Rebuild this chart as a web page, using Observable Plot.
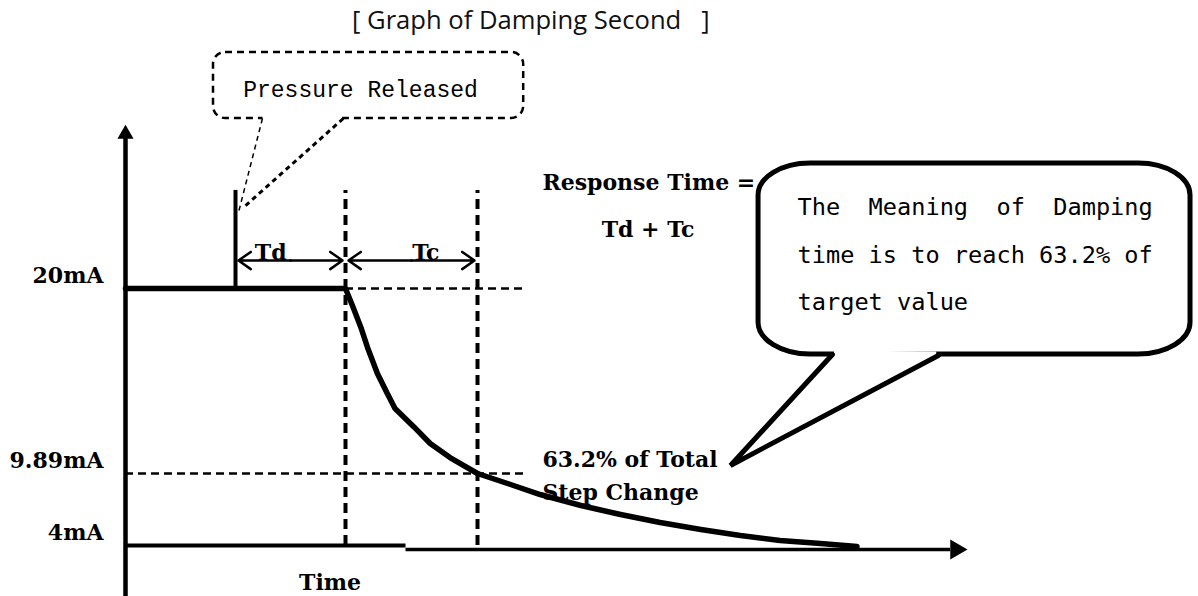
<!DOCTYPE html>
<html>
<head>
<meta charset="utf-8">
<script src="https://cdn.jsdelivr.net/npm/d3@7"></script>
<script src="https://cdn.jsdelivr.net/npm/@observablehq/plot@0.6"></script>
<style>
  html, body { margin: 0; padding: 0; background: #fff; }
  #wrap { position: relative; width: 1198px; height: 596px; overflow: hidden; }
  #title { position: absolute; left: 352px; top: 2px; font-family: "Open Sans", "Noto Sans", sans-serif; font-size: 25.6px; white-space: pre; color: #111; }
  #chart svg { display: block; }
  #chart text { white-space: pre; }
</style>
</head>
<body>
<div id="wrap">
  <div id="chart"></div>
  <div id="title"></div>
</div>
<script>
// ---------- data ----------
const titleText = "[ Graph of Damping Second   ]";
const yTickValues = [4, 9.89, 20];          // mA levels marked on the vertical axis
const yTickUnit = "mA";
const xLabel = "Time";
const releaseTime = 1.0;                      // pressure released
const phaseNames = ["Td", "Tc"];
const phaseStart = [1.0, 2.0];
const phaseEnd = [2.0, 3.2];
// output signal (time units, mA)
const signalTime = [0, 2.0, 2.07, 2.14, 2.2, 2.29, 2.38, 2.45, 2.62, 2.77, 2.95, 3.2, 3.5, 3.77, 4.14, 4.5, 4.86, 5.23, 5.59, 5.95, 6.32, 6.65];
const signalMA   = [20, 20, 18.96, 17.87, 16.78, 15.35, 14.26, 13.44, 12.45, 11.53, 10.76, 9.89, 8.99, 8.17, 7.27, 6.54, 5.88, 5.31, 4.82, 4.41, 4.16, 3.92];
const calloutText = "Pressure Released";
const responseLines = ["Response Time =", "Td + Tc"];
const stepLines = ["63.2% of Total", "Step Change"];
const noteLines = ["The  Meaning  of  Damping", "time is to reach 63.2% of", "target value"];

// ---------- annotation placement (data units: time, mA) ----------
const signal = signalTime.map((t, i) => ({t, v: signalMA[i]}));
const phaseLabelTime = [1.32, 2.73];
const dimLevel = 21.53;
const markerTop = 25.36;
const dashEnd = 3.64;
const axisTop = 28.3;
const axisBottom = -0.8;
const xAxisBreak = 2.55;
const xAxisEnd = 7.5;
const xAxisLow = 3.67;

const dimArrows = phaseNames.flatMap((n, i) => {
  const m = (phaseStart[i] + phaseEnd[i]) / 2;
  return [{a: m, b: phaseStart[i]}, {a: m, b: phaseEnd[i]}];
});
const phaseLabels = phaseNames.map((n, i) => ({n, t: phaseLabelTime[i]}));

const pressureBox = [{x1: 0.8, x2: 3.62, y1: 29.29, y2: 32.9}];
const pressureGap = [{a: 1.25, b: 1.97, v: 29.29}];
const pressureTails = [
  {x1: 1.245, y1: 29.29, x2: 1.027, y2: 24.15, w: 1.5},
  {x1: 1.98, y1: 29.29, x2: 1.073, y2: 24.43, w: 3}
];
const bubbleBox = [{x1: 5.755, x2: 9.682, y1: 16.39, y2: 26.83}];
const bubbleGap = [{x1: 6.44, y1: 16.39, x2: 7.37, y2: 16.34}];
const bubblePointer = [{t: 6.427, v: 16.39}, {t: 5.5, v: 10.33}, {t: 7.39, v: 16.34}];
const noteBaselines = [23.99, 21.42, 18.85];
const responseBaselines = [25.36, 22.79];
const responseX = [3.79, 4.75];
const responseAnchor = ["start", "middle"];
const stepBaselines = [10.22, 7.76];

const boldFont = {fontFamily: "DejaVu Serif", fontWeight: "bold", fontSize: 22};

document.getElementById("title").textContent = titleText;

const plot = Plot.plot({
  width: 1198,
  height: 596,
  marginLeft: 125,
  marginRight: 0,
  marginTop: 0,
  marginBottom: 0,
  style: {background: "white", color: "black"},
  x: {type: "linear", domain: [0, 10], range: [125, 1225], axis: null},
  y: {type: "linear", domain: [4, 9.89, 20], range: [545, 473, 288], axis: null},
  marks: [
    // dashed reference lines
    Plot.ruleY([20], {x1: phaseEnd[0], x2: dashEnd, stroke: "black", strokeWidth: 2.5, strokeDasharray: "8,5"}),
    Plot.ruleY([9.89], {x1: 0, x2: dashEnd, stroke: "black", strokeWidth: 2.5, strokeDasharray: "8,5"}),
    Plot.ruleX(phaseEnd, {y1: 4, y2: markerTop, stroke: "black", strokeWidth: 4, strokeDasharray: "10,6"}),
    // axes
    Plot.ruleX([0], {y1: axisBottom, y2: axisTop, stroke: "black", strokeWidth: 4.5}),
    Plot.dot([{t: 0, v: 28.44}], {x: "t", y: "v", symbol: "triangle", r: 6, fill: "black", stroke: "none"}),
    Plot.ruleY([4], {x1: 0, x2: xAxisBreak, stroke: "black", strokeWidth: 4}),
    Plot.ruleY([xAxisLow], {x1: xAxisBreak, x2: xAxisEnd, stroke: "black", strokeWidth: 3.5}),
    Plot.dot([{t: 7.55, v: xAxisLow}], {x: "t", y: "v", symbol: "triangle", rotate: 90, r: 7.4, fill: "black", stroke: "none"}),
    Plot.axisY(yTickValues, {anchor: "left", tickSize: 0, tickPadding: 22, dy: -13, tickFormat: d => d + yTickUnit, label: null, ...boldFont}),
    Plot.text([xLabel], {x: 1.86, y: 0.32, text: d => d, lineAnchor: "bottom", textAnchor: "middle", ...boldFont}),
    // release marker
    Plot.ruleX([releaseTime], {y1: 20, y2: markerTop, stroke: "black", strokeWidth: 4}),
    // Td / Tc dimension arrows
    Plot.arrow(dimArrows, {x1: "a", x2: "b", y1: dimLevel, y2: dimLevel, stroke: "black", strokeWidth: 2.5, headLength: 9, headAngle: 70, insetEnd: 3}),
    Plot.text(phaseLabels, {x: "t", y: dimLevel, text: "n", lineAnchor: "bottom", textAnchor: "middle", dy: -1, ...boldFont}),
    // signal
    Plot.line(signal, {x: "t", y: "v", stroke: "black", strokeWidth: 5.5, strokeLinejoin: "round"}),
    // pressure released callout
    Plot.rect(pressureBox, {x1: "x1", x2: "x2", y1: "y1", y2: "y2", rx: 12, ry: 12, fill: "white", stroke: "black", strokeWidth: 2.5, strokeDasharray: "7,5"}),
    Plot.ruleY(pressureGap, {y: "v", x1: "a", x2: "b", stroke: "white", strokeWidth: 5}),
    Plot.link(pressureTails, {x1: "x1", y1: "y1", x2: "x2", y2: "y2", stroke: "black", strokeWidth: d => d.w, strokeDasharray: "5,4"}),
    Plot.text([calloutText], {x: 1.07, y: 30.44, text: d => d, textAnchor: "start", lineAnchor: "bottom", fontFamily: "Liberation Mono", fontSize: 23}),
    // response time + step change notes
    Plot.text(responseLines.map((s, i) => ({s, t: responseX[i], v: responseBaselines[i], a: responseAnchor[i]})).slice(0, 1), {x: "t", y: "v", text: "s", textAnchor: "start", lineAnchor: "bottom", ...boldFont}),
    Plot.text(responseLines.map((s, i) => ({s, t: responseX[i], v: responseBaselines[i]})).slice(1), {x: "t", y: "v", text: "s", textAnchor: "middle", lineAnchor: "bottom", ...boldFont}),
    Plot.text(stepLines.map((s, i) => ({s, v: stepBaselines[i]})), {x: 3.79, y: "v", text: "s", textAnchor: "start", lineAnchor: "bottom", ...boldFont}),
    // speech bubble
    Plot.rect(bubbleBox, {x1: "x1", x2: "x2", y1: "y1", y2: "y2", rx: 52, ry: 32, fill: "white", stroke: "black", strokeWidth: 5}),
    Plot.link(bubbleGap, {x1: "x1", y1: "y1", x2: "x2", y2: "y2", stroke: "white", strokeWidth: 8}),
    Plot.line(bubblePointer, {x: "t", y: "v", stroke: "black", strokeWidth: 5, strokeLinejoin: "miter"}),
    Plot.text(noteLines.map((s, i) => ({s, v: noteBaselines[i]})), {x: 6.11, y: "v", text: "s", textAnchor: "start", lineAnchor: "bottom", fontFamily: "DejaVu Sans Mono", fontSize: 23.6})
  ]
});
document.getElementById("chart").appendChild(plot);
</script>
</body>
</html>
